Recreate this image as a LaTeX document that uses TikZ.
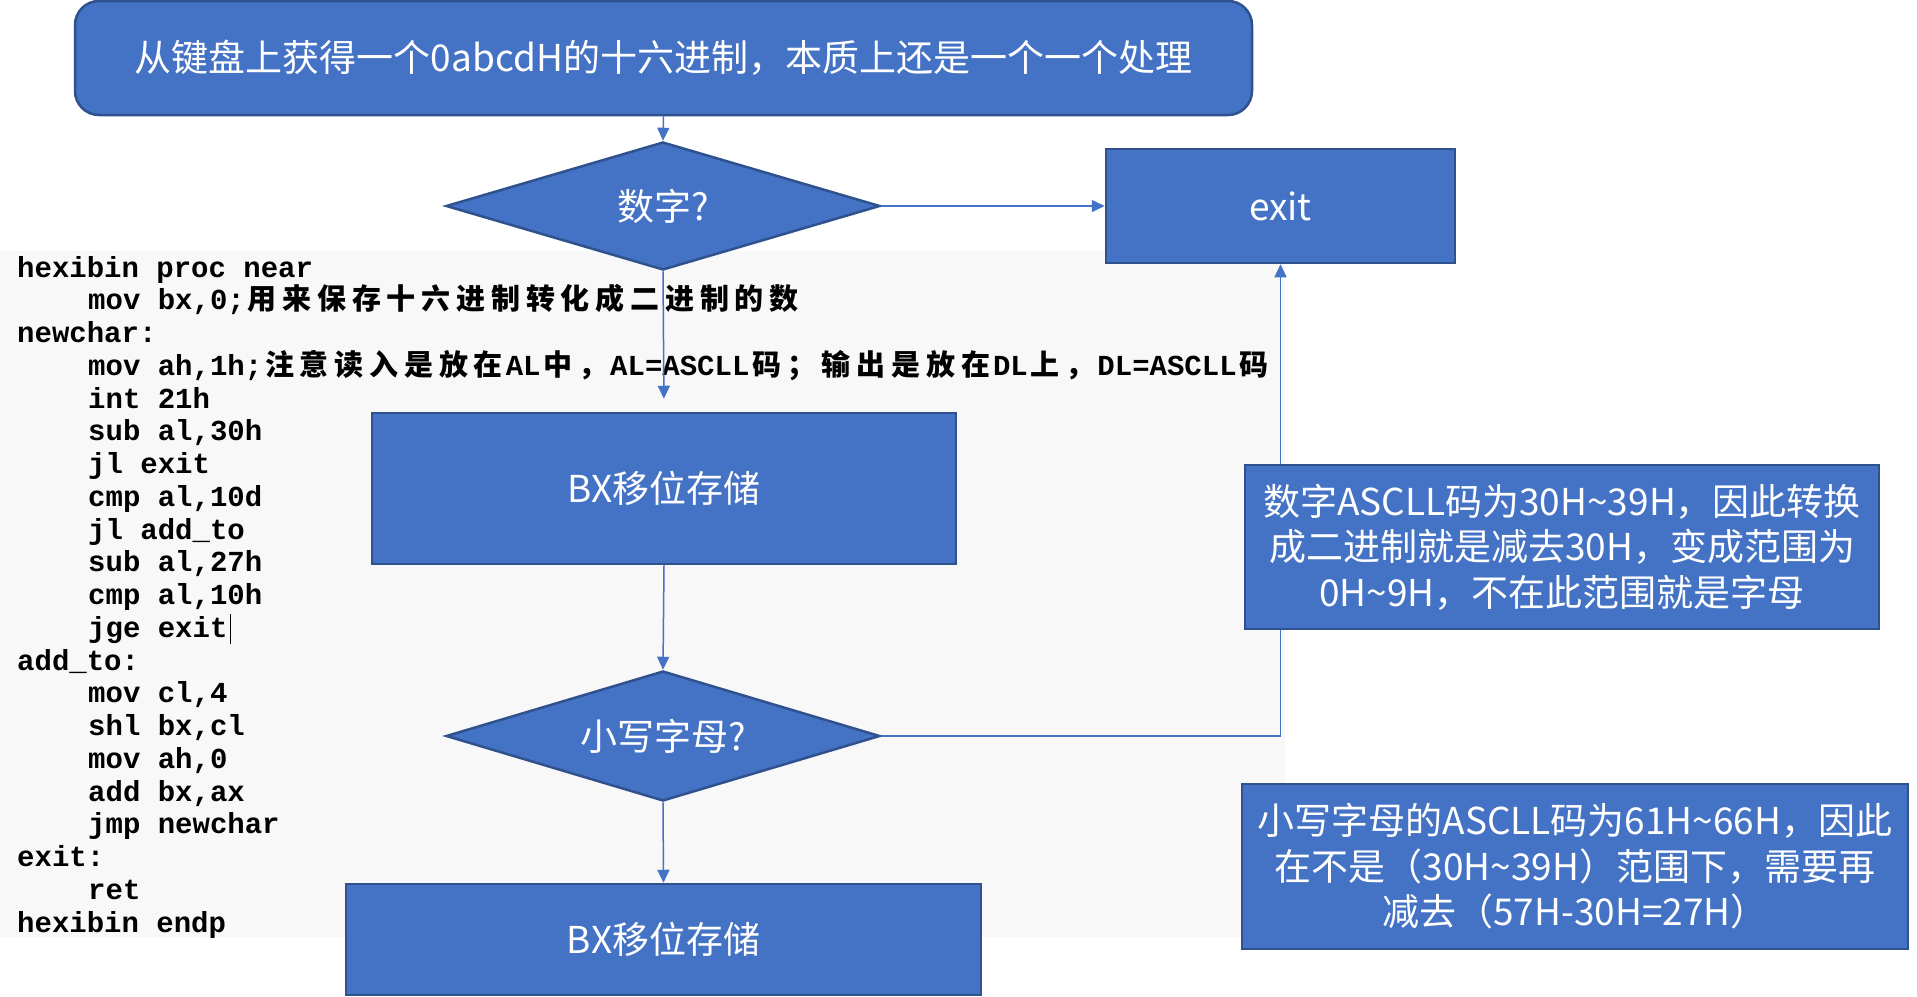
\documentclass[tikz,border=0pt]{standalone}
\usepackage{fontspec}
\usetikzlibrary{shapes.geometric,arrows.meta}
\setmainfont{Noto Sans CJK SC}
\newfontfamily\codefont{Liberation Mono}
\newfontfamily\cjkcode{Noto Sans CJK SC}
\definecolor{blu}{HTML}{4472C4}
\definecolor{bdr}{HTML}{2F528F}
\definecolor{codebg}{HTML}{F8F8F8}
\def\cj#1{\cjloop#1\relax}
\def\cjloop#1{\ifx\relax#1\else\makebox[34.8pt]{\cjkcode\bfseries#1}\expandafter\cjloop\fi}
\tikzset{
  box/.style={draw=bdr, line width=2.5pt, fill=blu, text=white,
    font=\fontsize{37}{45.5}\selectfont, inner sep=0pt},
  dia/.style={box, diamond, aspect=3.4},
  conn/.style={draw=blu, line width=1.5pt, -{Triangle[length=13pt,width=12pt]}},
  codetxt/.style={anchor=base west, inner sep=0pt, text=black,
    font={\fontsize{29}{30}\codefont\bfseries}},
}
\begin{document}
\begin{tikzpicture}[x=1pt,y=-1pt]
\useasboundingbox (0,0) rectangle (1917,996);
\fill[white] (0,0) rectangle (1917,996);
% code panel
\fill[codebg] (0,251) rectangle (1285,937);
\node[codetxt] (c1)  at (17,{277+32.75*0})  {hexibin proc near};
\node[codetxt] (c2)  at (88,{277+32.75*1})  {mov bx,0;\cj{用来保存十六进制转化成二进制的数}};
\node[codetxt] (c3)  at (17,{277+32.75*2})  {newchar:};
\node[codetxt] (c4)  at (88,{277+32.75*3})  {mov ah,1h;\cj{注意读入是放在}AL\cj{中，}AL=ASCLL\cj{码；输出是放在}DL\cj{上，}DL=ASCLL\cj{码}};
\node[codetxt] (c5)  at (88,{277+32.75*4})  {int 21h};
\node[codetxt] (c6)  at (88,{277+32.75*5})  {sub al,30h};
\node[codetxt] (c7)  at (88,{277+32.75*6})  {jl exit};
\node[codetxt] (c8)  at (88,{277+32.75*7})  {cmp al,10d};
\node[codetxt] (c9)  at (88,{277+32.75*8})  {jl add\_to};
\node[codetxt] (c10) at (88,{277+32.75*9})  {sub al,27h};
\node[codetxt] (c11) at (88,{277+32.75*10}) {cmp al,10h};
\node[codetxt] (c12) at (88,{277+32.75*11}) {jge exit};
\node[codetxt] (c13) at (17,{277+32.75*12}) {add\_to:};
\node[codetxt] (c14) at (88,{277+32.75*13}) {mov cl,4};
\node[codetxt] (c15) at (88,{277+32.75*14}) {shl bx,cl};
\node[codetxt] (c16) at (88,{277+32.75*15}) {mov ah,0};
\node[codetxt] (c17) at (88,{277+32.75*16}) {add bx,ax};
\node[codetxt] (c18) at (88,{277+32.75*17}) {jmp newchar};
\node[codetxt] (c19) at (17,{277+32.75*18}) {exit:};
\node[codetxt] (c20) at (88,{277+32.75*19}) {ret};
\node[codetxt] (c21) at (17,{277+32.75*20}) {hexibin endp};
\draw[black, line width=1pt] ([xshift=3pt,yshift=2pt]c12.north east) -- ([xshift=3pt]c12.south east);
% flowchart shapes
\node[box, rounded corners=24pt, minimum width=1177pt, minimum height=114pt] (top) at (663.5,58)
  {从键盘上获得一个0abcdH的十六进制，本质上还是一个一个处理};
\node[dia, minimum width=434pt, minimum height=128pt] (d1) at (663,206) {数字?};
\node[box, minimum width=349pt, minimum height=114pt] (exit) at (1280.5,206) {exit};
\node[box, minimum width=584pt, minimum height=151pt] (bx1) at (664,488.5) {BX移位存储};
\node[dia, minimum width=434pt, minimum height=130pt] (d2) at (663,736) {小写字母?};
\node[box, minimum width=635pt, minimum height=111pt] (bx2) at (663.5,939.5) {BX移位存储};
% connectors
\draw[conn] (top.south) -- (d1.north);
\draw[conn] (d1.east) -- (exit.west);
\draw[conn, shorten >=13pt] (d1.south) -- (bx1.north);
\draw[conn] (bx1.south) -- (d2.north);
\draw[conn] (d2.south) -- (bx2.north);
\draw[conn] (d2.east) -| (exit.south);
% notes
\node[box, minimum width=634pt, minimum height=164pt, align=center] (n1) at (1562,547)
  {数字ASCLL码为30H\textasciitilde39H，因此转换\\成二进制就是减去30H，变成范围为\\0H\textasciitilde9H，不在此范围就是字母};
\node[box, minimum width=666pt, minimum height=165pt, align=center] (n2) at (1575,866.5)
  {小写字母的ASCLL码为61H\textasciitilde66H，因此\\在不是（30H\textasciitilde39H）范围下，需要再\\减去（57H-30H=27H）};
\end{tikzpicture}
\end{document}
